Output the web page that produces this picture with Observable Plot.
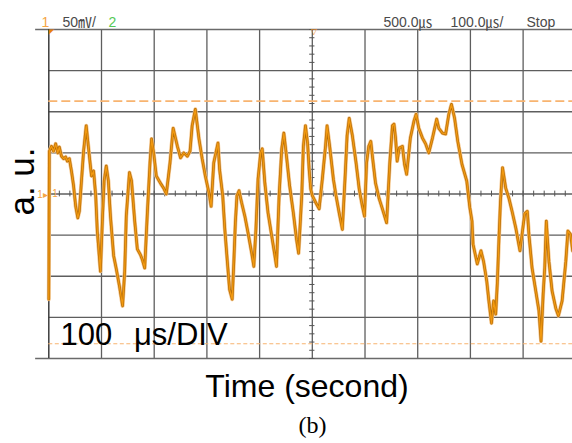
<!DOCTYPE html>
<html>
<head>
<meta charset="utf-8">
<script src="https://cdn.jsdelivr.net/npm/d3@7"></script>
<script src="https://cdn.jsdelivr.net/npm/@observablehq/plot@0.6"></script>
<style>
  html, body { margin: 0; padding: 0; background: #fff; }
  svg { display: block; }
</style>
</head>
<body>
<div id="chart"></div>
<script>
// ---- data (time in µs, amplitude in mV; 100 µs/div, 50 mV/div) ----
const timeUs = [0,1,5,9,13,17,20,24,28,32,35,39,43,47,51,55,58,62,66,71,75,79,81,85,89,92,98,102,105,109,113,117,123,128,134,140,144,147,153,157,163,168,174,177,182,187,192,195,199,204,212,218,223,230,236,244,250,256,263,268,272,278,285,291,297,304,308,313,321,324,330,334,339,343,348,351,354,357,361,366,372,378,385,389,393,397,402,405,410,416,423,429,432,437,442,446,451,457,464,470,474,480,483,487,491,494,497,500,507,513,519,525,528,533,540,545,551,557,562,566,570,576,583,589,595,599,603,607,611,614,620,627,633,641,647,652,655,658,661,665,671,675,679,686,693,697,702,709,715,721,728,736,740,747,753,759,764,770,776,784,793,799,803,805,813,820,825,831,835,840,844,848,851,854,857,861,867,873,879,886,894,898,903,908,911,917,924,930,934,938,941,944,949,955,962,967,974,981,985,990,994,999];
const traceMv = [-128,52,58,52,61,50,57,46,43,45,40,43,28,10,-15,-29,-21,16,52,83,58,34,22,28,-2,-45,-94,-27,16,34,16,-27,-75,-91,-112,-136,-94,-27,26,16,-33,-67,-74,-79,-90,-23,38,67,50,22,13,7,0,38,80,58,44,50,46,52,83,103,67,43,22,1,-15,38,62,30,-2,-43,-84,-116,-128,-84,-35,-2,4,-11,-27,-47,-72,-88,-43,18,50,55,13,-23,-51,-75,-88,-2,55,74,46,10,-23,-55,-72,-2,58,83,62,30,6,-2,-11,-18,18,58,83,58,18,-2,-23,-43,18,71,92,71,38,6,-15,-27,38,58,64,46,13,-6,-18,-35,38,83,85,68,40,56,58,36,24,68,89,97,80,68,61,50,68,91,80,74,73,97,109,92,64,36,16,-17,-33,-61,-85,-69,-82,-106,-130,-157,-130,-146,-109,-57,-9,32,7,-5,-21,-41,-69,-49,-24,-21,-49,-90,-118,-142,-179,-122,-90,-33,-82,-118,-139,-148,-130,-82,-45,-49,-69,-67];
const timeGridUs = [0,100,200,300,400,500,600,700,800,900,1000];
const voltGridMv = [-200,-150,-100,-50,0,50,100,150,200];
const cursorMv = [113, -182];
const headerLabels = ["1", "50㎷/", "2", "500.0㎲", "100.0㎲/", "Stop"];
const yLabel = "a. u.";
const xLabel = "Time (second)";
const scaleLabel = "100\u2002\u2009μs/DIV";
const panelLabel = "(b)";

// ---- layout / styling (not data) ----
const headerLayout = [
  {x: 41,  w: 6,  fill: "#f5a545"},
  {x: 62,  w: 23, fill: "#4a4a4a"},
  {x: 108, w: 6,  fill: "#55c955"},
  {x: 383, w: 36, fill: "#4a4a4a"},
  {x: 450, w: 40, fill: "#4a4a4a"},
  {x: 526, w: 23, fill: "#4a4a4a"}
];
const ML = 48.3;
const trace = timeUs.map((t, i) => ({t, v: traceMv[i]}));
const minorT = d3.range(0, 1001, 20);
const minorV = d3.range(-200, 201, 10);
const frameCx = (ML + 572) / 2;
const sans = "Liberation Sans, Arial, Helvetica, sans-serif";
const headFont = "'Liberation Sans Narrow', 'Liberation Sans', 'Noto Sans CJK JP', sans-serif";

const headerMarks = headerLabels.map((s, i) => Plot.text([s], {
  frameAnchor: "top-left", dx: headerLayout[i].x - ML, dy: -3,
  textAnchor: "start", lineAnchor: "bottom", fontSize: 14,
  fontFamily: headFont, fill: headerLayout[i].fill, ariaLabel: "head" + i
}));

const svg = Plot.plot({
  width: 572, height: 443,
  marginLeft: ML, marginRight: 0, marginTop: 29, marginBottom: 85,
  x: {domain: [0, 993.7], axis: null},
  y: {domain: [-200, 200], axis: null},
  style: {background: "white", fontFamily: sans},
  marks: [
    Plot.ruleX(timeGridUs.filter(t => t > 0), {stroke: "#5e5e5e", strokeWidth: 1.3}),
    Plot.ruleY(voltGridMv.filter(v => Math.abs(v) < 200), {stroke: "#5e5e5e", strokeWidth: 1.3}),
    Plot.ruleY(voltGridMv.filter(v => Math.abs(v) === 200), {x1: -25, x2: 1000, stroke: "#6a6a6a", strokeWidth: 1.4}),
    Plot.ruleX([0], {stroke: "#3c3c3c", strokeWidth: 1.5}),
    Plot.ruleX(minorT, {y1: -3.5, y2: 3.5, stroke: "#555", strokeWidth: 1}),
    Plot.ruleY(minorV, {x1: 495, x2: 505, stroke: "#555", strokeWidth: 1}),
    Plot.ruleY([cursorMv[0]], {stroke: "#f8b470", strokeWidth: 1.8, strokeDasharray: "9,4"}),
    Plot.ruleY([cursorMv[1]], {stroke: "#f8b470", strokeWidth: 1.1, strokeDasharray: "4,2.5"}),
    Plot.line(trace, {x: "t", y: "v", stroke: "#f6c68a", strokeWidth: 4.0, strokeLinejoin: "round"}),
    Plot.line(trace, {x: "t", y: "v", stroke: "#b56c08", strokeWidth: 2.6, strokeLinejoin: "round"}),
    Plot.line(trace, {x: "t", y: "v", stroke: "#f2990f", strokeWidth: 1.3, strokeLinejoin: "round"}),
    ...headerMarks,
    Plot.text(["◤"], {frameAnchor: "top-left", dx: 0, dy: 0, textAnchor: "start", lineAnchor: "top", fontSize: 7, fill: "#e8820c", fontFamily: "DejaVu Sans"}),
    Plot.text(["▽"], {frameAnchor: "top", dx: 3.2, dy: -1, lineAnchor: "top", fontSize: 8, fill: "#f08c1c", fontFamily: "DejaVu Sans"}),
    Plot.text(["1▸"], {frameAnchor: "left", dx: -1, dy: 1, textAnchor: "end", lineAnchor: "middle", fontSize: 10, fill: "#f5a545", fontFamily: sans}),
    Plot.text(["1"], {frameAnchor: "left", dx: 3.5, dy: 0, textAnchor: "start", lineAnchor: "middle", fontSize: 10, fill: "#f5a545", fontFamily: sans}),
    Plot.text([scaleLabel], {frameAnchor: "bottom-left", dx: 60 - ML, dy: -14, textAnchor: "start", lineAnchor: "bottom", fontSize: 31, fill: "#000", fontFamily: sans}),
    Plot.text([yLabel], {frameAnchor: "left", dx: 22 - ML, dy: 181 - 193.5, rotate: -90, textAnchor: "middle", lineAnchor: "middle", fontSize: 35, fill: "#000", fontFamily: sans}),
    Plot.text([xLabel], {frameAnchor: "bottom", dx: 306.5 - frameCx, dy: 396 - 358, lineAnchor: "bottom", fontSize: 32, fill: "#000", fontFamily: sans}),
    Plot.text([panelLabel], {frameAnchor: "bottom", dx: 312 - frameCx, dy: 432 - 358, lineAnchor: "bottom", fontSize: 24, fill: "#000", fontFamily: "Liberation Serif, 'Times New Roman', serif"})
  ]
});

function fit(label, len) {
  const t = svg.querySelector(`g[aria-label="${label}"] text`);
  if (t) { t.setAttribute("textLength", len); t.setAttribute("lengthAdjust", "spacingAndGlyphs"); }
}
headerLayout.forEach((h, i) => fit("head" + i, h.w));

document.getElementById("chart").appendChild(svg);
</script>
</body>
</html>
